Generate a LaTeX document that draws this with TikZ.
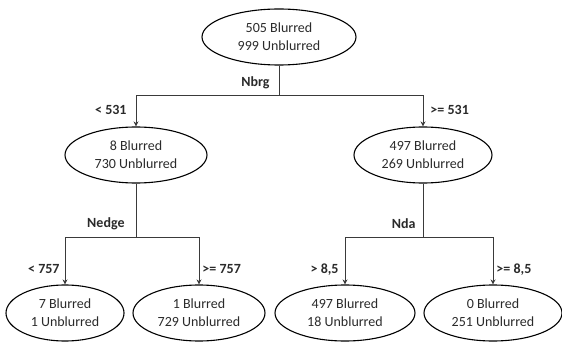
\documentclass[tikz,border=0pt]{standalone}
\usepackage{fontspec}
\setmainfont{Carlito}
\usepackage{tikz}
\usetikzlibrary{arrows.meta,positioning,calc,shapes.geometric}
\definecolor{inkline}{HTML}{3A3A3A}
\definecolor{inktext}{HTML}{2A2A2A}

\begin{document}
\begin{tikzpicture}[
  x=1pt,y=-1pt,
  leaf/.style={ellipse,draw=black,line width=1.1pt,align=center,text=inktext,font=\fontsize{14}{18}\selectfont,inner sep=0pt,minimum height=56pt},
  lbl/.style={font=\fontsize{14}{16}\selectfont\bfseries,text=inktext,inner sep=1pt},
  link/.style={draw=inkline,line width=0.9pt},
  arr/.style={-{Stealth[length=5pt,width=5pt]},draw=inkline,line width=0.9pt}
]
\useasboundingbox (0,0) rectangle (562,342);
\node[leaf,minimum width=154pt] (root) at (279,37) {505 Blurred\\999 Unblurred};
\node[leaf,minimum width=142pt] (sharp) at (136,155) {8 Blurred\\730 Unblurred};
\node[leaf,minimum width=138pt] (blur) at (423,155) {497 Blurred\\269 Unblurred};
\node[leaf,minimum width=118pt] (leafa) at (65,313) {7 Blurred\\1 Unblurred};
\node[leaf,minimum width=132pt] (leafb) at (199,313) {1 Blurred\\729 Unblurred};
\node[leaf,minimum width=140pt] (leafc) at (345,313) {497 Blurred\\18 Unblurred};
\node[leaf,minimum width=138pt] (leafd) at (493,313) {0 Blurred\\251 Unblurred};
\coordinate (split0) at (root.south |- 0,95);
\coordinate (split1) at (sharp.south |- 0,237);
\coordinate (split2) at (blur.south |- 0,237);
\draw[link] (root.south)-- node[lbl,left=8pt,pos=0.57] {Nbrg} (split0);
\draw[arr] (split0)-| node[lbl,left=8pt,pos=0.74] {< 531} (sharp.north);
\draw[arr] (split0)-| node[lbl,right=6pt,pos=0.74] {>= 531} (blur.north);
\draw[link] (sharp.south)-- node[lbl,left=10pt,pos=0.75] {Nedge} (split1);
\draw[link] (blur.south)-- node[lbl,left=6pt,pos=0.75] {Nda} (split2);
\draw[arr] (split1)-| node[lbl,left=4pt,pos=0.84] {< 757} (leafa.north);
\draw[arr] (split1)-| node[lbl,right=2pt,pos=0.84] {>= 757} (leafb.north);
\draw[arr] (split2)-| node[lbl,left=5pt,pos=0.84] {> 8,5} (leafc.north);
\draw[arr] (split2)-| node[lbl,right=2pt,pos=0.84] {>= 8,5} (leafd.north);
\end{tikzpicture}
\end{document}
